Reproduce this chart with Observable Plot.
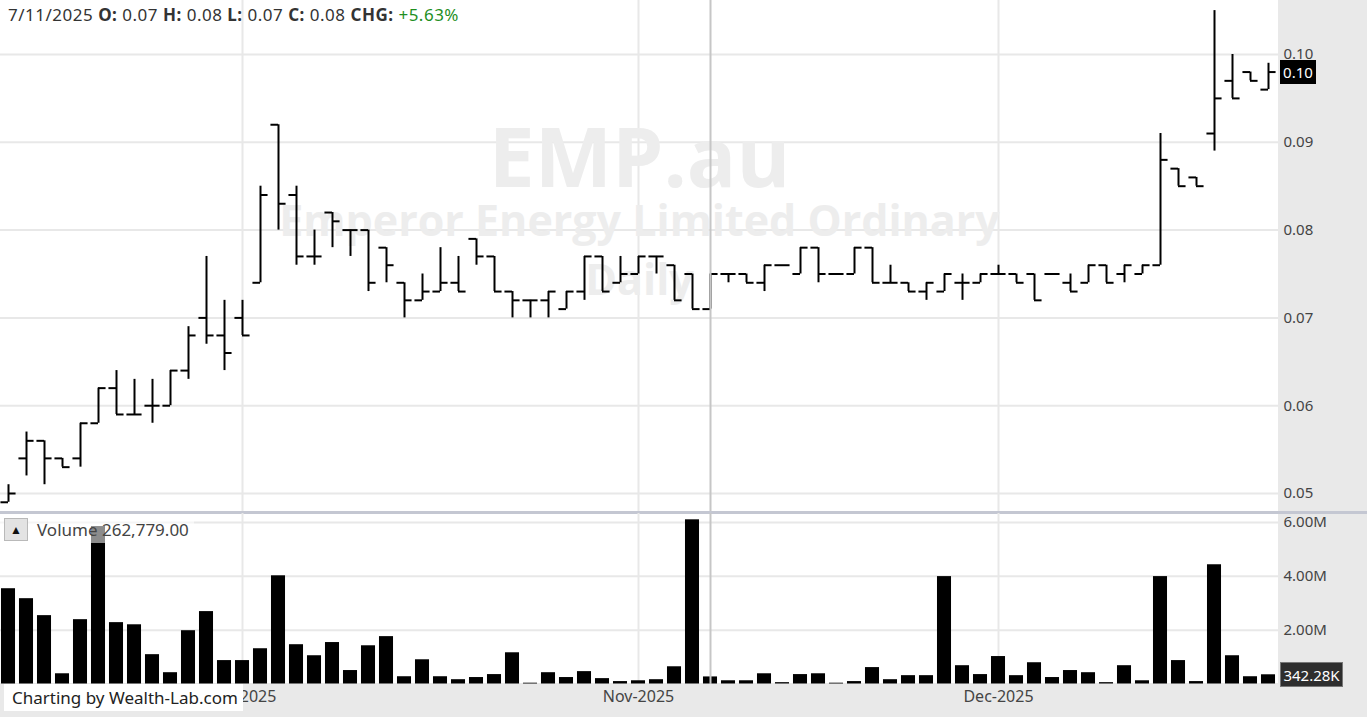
<!DOCTYPE html>
<html>
<head>
<meta charset="utf-8">
<script src="https://cdn.jsdelivr.net/npm/d3@7"></script>
<script src="https://cdn.jsdelivr.net/npm/@observablehq/plot@0.6"></script>
<style>
  body { margin: 0; background: #e9e9e9; font-family: "Noto Sans", "Open Sans", sans-serif; }
  #wrap { position: relative; width: 1367px; height: 717px; background: #e9e9e9; overflow: hidden; }
  #white { position: absolute; left: 0; top: 0; width: 1278px; height: 683px; background: #fff; }
  #price { position: absolute; left: 0; top: 0; }
  #vol { position: absolute; left: 0; top: 503px; }
  #sep { position: absolute; left: 0; top: 511px; width: 1367px; height: 3px; background: #c4c7d2; }
  #header { position: absolute; left: 8px; top: 3px; font-size: 17px; letter-spacing: 0.5px; color: #333; white-space: pre; }
  #header b { font-weight: 700; }
  #header .chg { color: #1f8f1f; }
  #vlabel { position: absolute; left: 0; top: 516px; height: 27px; width: 194px; background: rgba(255,255,255,0.55); }
  #vbtn { position: absolute; left: 4px; top: 518px; width: 22px; height: 21px; background: #e3e3e3; border: 1px solid #b9b9b9; font-size: 12px; line-height: 21px; text-align: center; color: #111; }
  #vtext { position: absolute; left: 37px; top: 518px; font-size: 17px; color: #444; }
  #credit { position: absolute; left: 4px; top: 684px; width: 239px; height: 27px; background: #fff; font-size: 17px; color: #222; line-height: 27px; padding-left: 8px; box-sizing: border-box; }
  .lastbox { position: absolute; color: #fff; font-size: 15px; text-align: center; box-sizing: border-box; }
</style>
</head>
<body>
<div id="wrap">
  <div id="white"></div>
  <div id="price"></div>
  <div id="sep"></div>
  <div id="vol"></div>
  <div id="header"></div>
  <div id="vlabel"></div>
  <div id="vbtn">&#9650;</div>
  <div id="vtext"></div>
  <div id="credit">Charting by Wealth-Lab.com</div>
</div>
<script>
// ---- Data (daily bars, 12 Sep 2025 – 22 Dec 2025) ----
const open  = [0.049,0.054,0.056,0.054,0.054,0.058,0.062,0.059,0.060,0.060,0.064,0.070,0.068,0.070,0.074,0.092,0.084,0.077,0.082,0.080,
               0.080,0.078,0.074,0.072,0.073,0.074,0.079,0.077,0.073,0.072,0.072,0.071,0.073,0.077,0.074,0.075,0.077,0.076,0.075,0.071,
               0.075,0.075,0.074,0.076,0.075,0.078,0.075,0.075,0.078,0.074,0.074,0.073,0.073,0.074,0.074,0.075,0.075,0.075,0.075,0.074,
               0.074,0.076,0.075,0.075,0.076,0.087,0.086,0.091,0.097,0.098,0.096];
const high  = [0.051,0.057,0.056,0.054,0.058,0.062,0.064,0.063,0.063,0.064,0.069,0.077,0.072,0.072,0.085,0.092,0.085,0.080,0.082,0.080,
               0.080,0.078,0.074,0.075,0.078,0.077,0.079,0.077,0.073,0.072,0.073,0.073,0.077,0.077,0.077,0.077,0.077,0.076,0.075,0.075,
               0.075,0.075,0.076,0.076,0.078,0.078,0.075,0.078,0.078,0.076,0.074,0.074,0.075,0.075,0.075,0.076,0.075,0.075,0.075,0.075,
               0.076,0.076,0.076,0.076,0.091,0.087,0.086,0.105,0.100,0.098,0.099];
const low   = [0.049,0.052,0.051,0.053,0.053,0.058,0.059,0.059,0.058,0.060,0.063,0.067,0.064,0.068,0.074,0.080,0.076,0.076,0.078,0.077,
               0.073,0.074,0.070,0.072,0.073,0.073,0.076,0.073,0.070,0.070,0.070,0.071,0.072,0.073,0.074,0.075,0.075,0.072,0.071,0.071,
               0.074,0.074,0.073,0.076,0.075,0.074,0.075,0.075,0.074,0.074,0.073,0.072,0.073,0.072,0.074,0.075,0.074,0.072,0.075,0.073,
               0.074,0.074,0.074,0.075,0.076,0.085,0.085,0.089,0.095,0.097,0.096];
const close = [0.050,0.056,0.054,0.053,0.058,0.062,0.059,0.059,0.060,0.064,0.068,0.068,0.066,0.068,0.084,0.083,0.077,0.077,0.081,0.080,
               0.074,0.076,0.072,0.073,0.074,0.073,0.077,0.073,0.072,0.072,0.073,0.073,0.077,0.073,0.075,0.077,0.077,0.072,0.071,0.075,
               0.075,0.074,0.076,0.076,0.078,0.075,0.075,0.078,0.074,0.074,0.073,0.074,0.075,0.074,0.075,0.075,0.074,0.072,0.075,0.073,
               0.076,0.074,0.076,0.076,0.088,0.085,0.085,0.095,0.095,0.097,0.098];
const volume = [3540000,3170000,2540000,380000,2390000,5850000,2280000,2200000,1090000,420000,1980000,2690000,870000,870000,1310000,
                4020000,1460000,1050000,1540000,500000,1420000,1760000,270000,900000,270000,160000,240000,350000,1160000,30000,
                420000,240000,460000,200000,90000,120000,160000,640000,6100000,262779,120000,120000,380000,50000,350000,
                380000,30000,90000,610000,160000,310000,310000,3990000,680000,350000,1020000,310000,790000,240000,500000,
                420000,50000,680000,120000,3990000,870000,90000,4430000,1050000,270000,342280];

const priceTicks = [0.05, 0.06, 0.07, 0.08, 0.09, 0.10];
const volTicks = [2000000, 4000000, 6000000];
const monthTicks = [13, 35, 55];
const monthLabels = ["Oct-2025", "Nov-2025", "Dec-2025"];
const cursorIndex = 39;
const headerParts = [["7/11/2025 ", ""], ["O:", "b"], [" 0.07 ", ""], ["H:", "b"], [" 0.08 ", ""], ["L:", "b"], [" 0.07 ", ""],
                     ["C:", "b"], [" 0.08 ", ""], ["CHG:", "b"], [" ", ""], ["+5.63%", "chg"]];
const watermark = [["EMP.au", 160, 82], ["Emperor Energy Limited Ordinary", 222, 43], ["Daily", 281, 43]];

const bars = open.map((o, i) => ({i, o, h: high[i], l: low[i], c: close[i], v: volume[i]}));

const xScale = {type: "linear", domain: [0, 70], range: [8, 1268], axis: null};
const grid = "#e8e8e8";
const font = "'Noto Sans', 'Open Sans', sans-serif";

const pricePlot = Plot.plot({
  width: 1367, height: 512,
  marginLeft: 0, marginRight: 89, marginTop: 0, marginBottom: 0,
  style: {background: "transparent", fontFamily: font, fontSize: "15px", color: "#444"},
  x: xScale,
  y: {domain: [0.05, 0.10], range: [493, 54], axis: null},
  marks: [
    Plot.ruleY(priceTicks, {stroke: grid, strokeWidth: 2}),
    Plot.ruleX(monthTicks, {stroke: grid, strokeWidth: 2}),
    ...watermark.map(([t, y, s]) => Plot.text([t], {frameAnchor: "top", lineAnchor: "middle", dy: y, fontSize: s, fontWeight: "bold",
      fontFamily: "'Open Sans', sans-serif", fill: "#ededed"})),
    Plot.ruleX(bars, {x: "i", y1: "l", y2: "h", stroke: "#000", strokeWidth: 2}),
    Plot.ruleY(bars, {y: "o", x1: d => d.i - 0.42, x2: "i", stroke: "#000", strokeWidth: 2}),
    Plot.ruleY(bars, {y: "c", x1: "i", x2: d => d.i + 0.42, stroke: "#000", strokeWidth: 2}),
    Plot.ruleX([cursorIndex], {stroke: "#c6c6c6", strokeWidth: 2}),
    Plot.axisY(priceTicks, {anchor: "right", label: null, tickSize: 0, tickPadding: 5, tickFormat: d => d.toFixed(2), fontSize: 15})
  ]
});
document.getElementById("price").appendChild(pricePlot);

// volume pane: svg starts at 503, frame starts at 513 (below the separator)
const volPlot = Plot.plot({
  width: 1367, height: 214,
  marginLeft: 0, marginRight: 89, marginTop: 10, marginBottom: 33,
  style: {background: "transparent", fontFamily: font, fontSize: "15px", color: "#444"},
  x: xScale,
  y: {domain: [0, 6000000], range: [180.5, 19], axis: null},
  marks: [
    Plot.ruleY(volTicks, {stroke: grid, strokeWidth: 2}),
    Plot.ruleX(monthTicks, {stroke: grid, strokeWidth: 2}),
    Plot.rect(bars, {x1: d => d.i - 0.39, x2: d => d.i + 0.39, y1: 0, y2: "v", fill: "#000"}),
    Plot.ruleX([cursorIndex], {stroke: "#c6c6c6", strokeWidth: 2}),
    Plot.axisY(volTicks, {anchor: "right", label: null, tickSize: 0, tickPadding: 5, tickFormat: d => (d / 1e6).toFixed(2) + "M", fontSize: 15}),
    Plot.axisX(monthTicks, {anchor: "bottom", label: null, tickSize: 0, tickPadding: 6, tickFormat: d => monthLabels[monthTicks.indexOf(d)], fontSize: 16})
  ]
});
document.getElementById("vol").appendChild(volPlot);

// header
const header = document.getElementById("header");
headerParts.forEach(([t, cls]) => {
  const el = document.createElement(cls === "b" ? "b" : "span");
  if (cls === "chg") el.className = "chg";
  el.textContent = t;
  header.appendChild(el);
});
document.getElementById("vtext").textContent = "Volume " + d3.format(",.2f")(volume[cursorIndex]);

// last-value boxes positioned through the plots' scales
const wrap = document.getElementById("wrap");
const last = close.length - 1;
const py = pricePlot.scale("y").apply(close[last]);
const pb = document.createElement("div");
pb.className = "lastbox";
Object.assign(pb.style, {left: "1280px", top: (py - 12) + "px", width: "36px", height: "24px", lineHeight: "24px", background: "#000"});
pb.textContent = close[last].toFixed(2);
wrap.appendChild(pb);

const vy = 503 + volPlot.scale("y").apply(volume[last]);
const vb = document.createElement("div");
vb.className = "lastbox";
Object.assign(vb.style, {left: "1280px", top: (vy - 12) + "px", width: "63px", height: "25px", lineHeight: "25px", background: "#2e2e2e", border: "1px solid #777"});
vb.textContent = d3.format(".2f")(volume[last] / 1000) + "K";
wrap.appendChild(vb);
</script>
</body>
</html>
